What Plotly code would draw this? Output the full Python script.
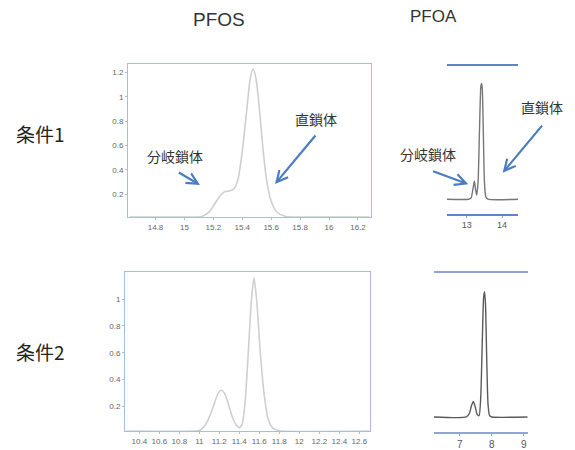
import plotly.graph_objects as go

# ---- data ----
pfos1_x = [14.62, 15.05, 15.12, 15.17, 15.21, 15.25, 15.28, 15.31, 15.34, 15.37, 15.40, 15.43,
           15.455, 15.475, 15.495, 15.52, 15.545, 15.57, 15.60, 15.64, 15.70, 15.80, 16.28]
pfos1_y = [0.01, 0.01, 0.015, 0.05, 0.12, 0.19, 0.22, 0.225, 0.24, 0.32, 0.55, 0.88,
           1.15, 1.23, 1.15, 0.88, 0.55, 0.30, 0.14, 0.05, 0.015, 0.01, 0.01]

pfos2_x = [10.27, 10.95, 11.00, 11.05, 11.10, 11.15, 11.19, 11.22, 11.25, 11.29, 11.33, 11.37,
           11.40, 11.43, 11.46, 11.49, 11.52, 11.547, 11.575, 11.61, 11.65, 11.69, 11.74, 11.80, 12.70]
pfos2_y = [0.015, 0.015, 0.02, 0.05, 0.12, 0.22, 0.30, 0.32, 0.30, 0.22, 0.12, 0.06,
           0.04, 0.07, 0.25, 0.60, 0.98, 1.16, 0.98, 0.60, 0.28, 0.10, 0.035, 0.018, 0.015]

pfoa1_x = [12.43, 13.05, 13.12, 13.17, 13.215, 13.25, 13.28, 13.32, 13.36, 13.40, 13.42,
           13.44, 13.47, 13.50, 13.54, 13.60, 14.46]
pfoa1_y = [0.0, 0.0, 0.01, 0.08, 0.157, 0.08, 0.035, 0.15, 0.60, 0.98, 1.0,
           0.95, 0.55, 0.15, 0.02, 0.0, 0.0]

pfoa2_x = [6.19, 7.20, 7.30, 7.36, 7.42, 7.48, 7.54, 7.60, 7.65, 7.70, 7.74, 7.77,
           7.80, 7.84, 7.88, 7.93, 8.00, 9.12]
pfoa2_y = [0.0, 0.0, 0.03, 0.09, 0.124, 0.08, 0.02, 0.01, 0.15, 0.60, 0.95, 1.0,
           0.90, 0.45, 0.10, 0.01, 0.0, 0.0]

pfos1_ticks = [14.8, 15.0, 15.2, 15.4, 15.6, 15.8, 16.0, 16.2]
pfos1_ticktext = ["14.8", "15", "15.2", "15.4", "15.6", "15.8", "16", "16.2"]
pfos2_ticks = [10.4, 10.6, 10.8, 11.0, 11.2, 11.4, 11.6, 11.8, 12.0, 12.2, 12.4, 12.6]
pfos2_ticktext = ["10.4", "10.6", "10.8", "11", "11.2", "11.4", "11.6", "11.8", "12", "12.2", "12.4", "12.6"]
pfos1_yticks = [0.2, 0.4, 0.6, 0.8, 1.0, 1.2]
pfos1_yticktext = ["0.2", "0.4", "0.6", "0.8", "1", "1.2"]
pfos2_yticks = [0.2, 0.4, 0.6, 0.8, 1.0]
pfos2_yticktext = ["0.2", "0.4", "0.6", "0.8", "1"]
pfoa1_ticks = [13, 14]
pfoa2_ticks = [7, 8, 9]

col_titles = ["PFOS", "PFOA"]
row_titles = ["条件1", "条件2"]
branch_label = "分岐鎖体"
linear_label = "直鎖体"

W, H = 575, 450
def px(x): return x / W
def py(y): return 1 - y / H

fig = go.Figure()
light = "#cfcfcf"
dark = "#5a5a5a"
fig.add_trace(go.Scatter(x=pfos1_x, y=pfos1_y, mode="lines", line=dict(color=light, width=1.6, shape="spline", smoothing=0.6), xaxis="x", yaxis="y", hoverinfo="skip"))
fig.add_trace(go.Scatter(x=pfos2_x, y=pfos2_y, mode="lines", line=dict(color=light, width=1.6, shape="spline", smoothing=0.6), xaxis="x2", yaxis="y2", hoverinfo="skip"))
fig.add_trace(go.Scatter(x=pfoa1_x, y=pfoa1_y, mode="lines", line=dict(color="#777777", width=1.4, shape="spline", smoothing=0.6), xaxis="x3", yaxis="y3", hoverinfo="skip"))
fig.add_trace(go.Scatter(x=pfoa2_x, y=pfoa2_y, mode="lines", line=dict(color=dark, width=1.4, shape="spline", smoothing=0.6), xaxis="x4", yaxis="y4", hoverinfo="skip"))

tickfont = dict(family="Liberation Sans, Arial", size=8, color="#666666")
frame = "#a9bde0"

fig.update_layout(
    width=W, height=H, margin=dict(l=0, r=0, t=0, b=0),
    paper_bgcolor="white", plot_bgcolor="white", showlegend=False,
    xaxis=dict(domain=[px(128), px(371)], anchor="y", range=[14.61, 16.29],
               tickvals=pfos1_ticks, ticktext=pfos1_ticktext, tickfont=tickfont,
               showgrid=False, zeroline=False, showline=True, mirror=True, linecolor=frame, linewidth=1,
               ticks="outside", ticklen=2, tickcolor=frame),
    yaxis=dict(domain=[py(219), py(65)], anchor="x", range=[0.01, 1.268],
               tickvals=pfos1_yticks, ticktext=pfos1_yticktext, tickfont=tickfont,
               showgrid=False, zeroline=False, showline=True, mirror=True, linecolor=frame, linewidth=1,
               ticks="outside", ticklen=2, tickcolor=frame),
    xaxis2=dict(domain=[px(125), px(370)], anchor="y2", range=[10.257, 12.707],
                tickvals=pfos2_ticks, ticktext=pfos2_ticktext, tickfont=tickfont,
                showgrid=False, zeroline=False, showline=True, mirror=True, linecolor=frame, linewidth=1,
                ticks="outside", ticklen=2, tickcolor=frame),
    yaxis2=dict(domain=[py(435), py(274)], anchor="x2", range=[0.015, 1.205],
                tickvals=pfos2_yticks, ticktext=pfos2_yticktext, tickfont=tickfont,
                showgrid=False, zeroline=False, showline=True, mirror=True, linecolor=frame, linewidth=1,
                ticks="outside", ticklen=2, tickcolor=frame),
    xaxis3=dict(domain=[px(446.7), px(518.3)], anchor="y3", range=[12.43, 14.46],
                tickvals=pfoa1_ticks, tickfont=dict(family="Liberation Sans, Arial", size=9, color="#555555"),
                showgrid=False, zeroline=False, showline=True, mirror=True, linecolor="#5f82c8", linewidth=1.5,
                ticks="outside", ticklen=2, tickcolor="#8aa0cc"),
    yaxis3=dict(domain=[py(215.7), py(66.7)], anchor="x3", range=[-0.126, 1.151],
                visible=False),
    xaxis4=dict(domain=[px(434), px(527.7)], anchor="y4", range=[6.19, 9.12],
                tickvals=pfoa2_ticks, tickfont=dict(family="Liberation Sans, Arial", size=10, color="#555555"),
                showgrid=False, zeroline=False, showline=True, mirror=True, linecolor="#8ea6d0", linewidth=1.5,
                ticks="outside", ticklen=2, tickcolor="#8ea6d0"),
    yaxis4=dict(domain=[py(436), py(275)], anchor="x4", range=[-0.121, 1.153],
                visible=False),
)

ann = []
cjk = "Noto Sans CJK JP"
base = dict(xref="paper", yref="paper", showarrow=False, xanchor="center", yanchor="middle")
ann.append(dict(base, text=col_titles[0], x=px(219), y=py(20),
                font=dict(family="Liberation Sans, Arial", size=19, color="#333333")))
ann.append(dict(base, text=col_titles[1], x=px(433), y=py(17),
                font=dict(family="Liberation Sans, Arial", size=17, color="#333333")))
ann.append(dict(base, text=row_titles[0], x=px(40), y=py(135),
                font=dict(family=cjk, size=19, color="#222222")))
ann.append(dict(base, text=row_titles[1], x=px(40), y=py(355),
                font=dict(family=cjk, size=19, color="#222222")))

lblfont = dict(family=cjk, size=14, color="#333333")
ann.append(dict(base, text=branch_label, x=px(175), y=py(157), font=lblfont))
ann.append(dict(base, text=linear_label, x=px(316), y=py(120), font=lblfont))
ann.append(dict(base, text=branch_label, x=px(427.5), y=py(155), font=lblfont))
ann.append(dict(base, text=linear_label, x=px(542), y=py(108), font=lblfont))

arrow = dict(text="", xref="paper", yref="paper", showarrow=True, arrowhead=5, arrowsize=1.0,
             arrowwidth=2.2, arrowcolor="#4a7cc0", standoff=0, startstandoff=0)
ann.append(dict(arrow, x=px(200), y=py(186.7), ax=-22.7, ay=-13.4))
ann.append(dict(arrow, x=px(275), y=py(185.7), ax=41.7, ay=-50))
ann.append(dict(arrow, x=px(468.3), y=py(186), ax=-36.6, ay=-13.7))
ann.append(dict(arrow, x=px(502.7), y=py(174.3), ax=40.6, ay=-48.6))

fig.update_layout(annotations=ann)
fig.write_html("out.html", config={"displayModeBar": False},
               post_script="document.body.style.margin='0';document.body.style.overflow='hidden';")
